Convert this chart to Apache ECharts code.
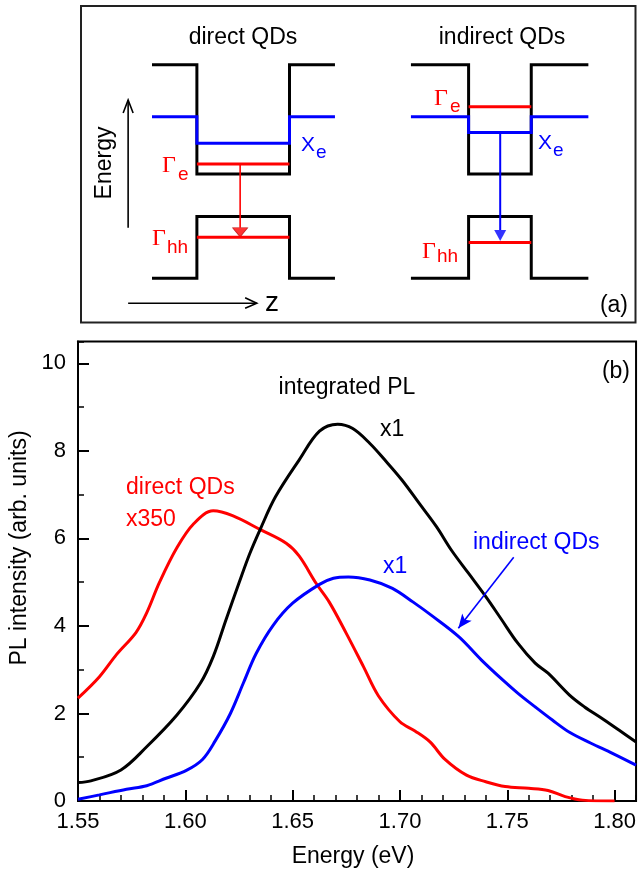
<!DOCTYPE html>
<html>
<head>
<meta charset="utf-8">
<script src="https://cdn.jsdelivr.net/npm/echarts@6/dist/echarts.min.js"></script>
<style>
  html, body { margin: 0; padding: 0; background: #fff; }
  #chart { width: 639px; height: 874px; }
</style>
</head>
<body>
<div id="chart"></div>
<script>
const FONT = "Liberation Sans, Arial, sans-serif";
const SERIF = "Liberation Serif, Times New Roman, serif";

// panel (b): integrated PL spectra
const energyBlack = [1.550, 1.556, 1.570, 1.582, 1.596, 1.607, 1.613, 1.619, 1.625, 1.630, 1.635, 1.642, 1.653, 1.6625, 1.671, 1.678, 1.686, 1.693, 1.701, 1.709, 1.717, 1.724, 1.732, 1.740, 1.747, 1.755, 1.763, 1.769, 1.779, 1.786, 1.794, 1.802, 1.810];
const plBlack = [0.42, 0.46, 0.71, 1.24, 1.96, 2.69, 3.30, 4.15, 4.98, 5.65, 6.22, 6.95, 7.79, 8.45, 8.61, 8.51, 8.17, 7.79, 7.33, 6.80, 6.27, 5.73, 5.20, 4.67, 4.17, 3.60, 3.15, 2.92, 2.42, 2.15, 1.89, 1.62, 1.35];

const energyRed = [1.550, 1.560, 1.568, 1.577, 1.582, 1.588, 1.596, 1.604, 1.613, 1.622, 1.635, 1.647, 1.653, 1.661, 1.667, 1.675, 1.683, 1.690, 1.700, 1.707, 1.714, 1.721, 1.731, 1.740, 1.749, 1.760, 1.769, 1.777, 1.785, 1.800];
const plRed = [2.35, 2.84, 3.35, 3.85, 4.30, 5.00, 5.78, 6.34, 6.63, 6.52, 6.20, 5.89, 5.60, 4.97, 4.55, 3.83, 3.07, 2.40, 1.81, 1.60, 1.35, 0.95, 0.59, 0.44, 0.33, 0.29, 0.24, 0.10, 0.02, 0.00];

const energyBlue = [1.550, 1.560, 1.5726, 1.582, 1.591, 1.6005, 1.608, 1.614, 1.621, 1.627, 1.633, 1.641, 1.650, 1.6625, 1.669, 1.676, 1.686, 1.6965, 1.706, 1.715, 1.7275, 1.738, 1.748, 1.755, 1.763, 1.771, 1.779, 1.789, 1.799, 1.810];
const plBlue = [0.04, 0.14, 0.27, 0.35, 0.52, 0.70, 0.95, 1.38, 2.00, 2.69, 3.37, 4.02, 4.52, 4.95, 5.09, 5.12, 5.05, 4.86, 4.55, 4.23, 3.75, 3.22, 2.76, 2.46, 2.15, 1.85, 1.57, 1.32, 1.09, 0.82];

const xTicks = [1.55, 1.81, 0.05, 0.01];   // min, max, major, minor
const yTicks = [0, 10.5, 2, 1];

// arrow pointing at the indirect QD curve, in data units
const pointerStart = [1.753, 5.57];
const pointerEnd = [1.7272, 3.95];

// panel (a): band scheme in arbitrary units (z across, energy up, 0..100)
const directEdges = [12.8, 20.9, 37.6, 45.8];
const indirectEdges = [59.5, 69.9, 81.2, 91.5];
const cbLevels = [81.4, 46.9];        // barrier, well bottom
const vbLevels = [14.0, 33.5];        // barrier, well top
const xLevels = [65.0, 56.6, 60.0];   // barrier, direct well, indirect well
const gammaE = [50.1, 68.2];          // direct, indirect
const gammaHH = [26.9, 25.3];         // direct, indirect
const transitionX = [28.7, 75.6];
const transitionHead = [28.5, 27.5];
const transitionTop = [29.9, 29.2];

function pairs(xs, ys) {
  return xs.map((x, i) => [x, ys[i]]);
}

function well(edges, outer, inner) {
  return [
    [edges[0], outer], [edges[1], outer], [edges[1], inner],
    [edges[2], inner], [edges[2], outer], [edges[3], outer],
  ];
}

function level(edges, y) {
  return [[edges[1], y], [edges[2], y]];
}

function schemeLine(data, color, width) {
  return {
    type: "line",
    xAxisIndex: 2,
    yAxisIndex: 2,
    data,
    showSymbol: false,
    symbol: "none",
    silent: true,
    lineStyle: { color, width, cap: "butt", join: "miter" },
  };
}

function curve(xs, ys, color, extra) {
  return Object.assign({
    type: "line",
    data: pairs(xs, ys),
    showSymbol: false,
    symbol: "none",
    smooth: 0.35,
    lineStyle: { color, width: 3 },
    z: 3,
  }, extra || {});
}

function text(x, y, str, opts) {
  const o = opts || {};
  const size = o.size || 23;
  return {
    type: "text",
    x,
    y,
    rotation: o.rotation || 0,
    silent: true,
    style: {
      text: str,
      fill: o.color || "#000",
      font: `${size}px ${o.family || FONT}`,
      fontSize: size,
      fontFamily: o.family || FONT,
      align: o.align || "left",
      textAlign: o.align || "left",
      verticalAlign: "middle",
      textVerticalAlign: "middle",
    },
  };
}

const chart = echarts.init(document.getElementById("chart"), null, { renderer: "canvas" });

const tickStyle = { color: "#000", width: 2 };

chart.setOption({
  animation: false,
  backgroundColor: "#fff",
  grid: [
    { left: 78, top: 341.5, width: 559.5, height: 459.5, show: true, borderColor: "#000", borderWidth: 2 },
    { left: 81, top: 6, width: 554.5, height: 316.5, show: true, borderColor: "#222", borderWidth: 2 },
  ],
  xAxis: [
    {
      type: "value", gridIndex: 0, position: "bottom",
      min: xTicks[0], max: xTicks[1], interval: xTicks[2],
      axisLine: { onZero: false, lineStyle: tickStyle },
      axisTick: { inside: true, length: 11, lineStyle: tickStyle },
      axisLabel: {
        color: "#000", fontSize: 22, fontFamily: FONT, margin: 10,
        showMaxLabel: false, formatter: (v) => v.toFixed(2),
      },
      splitLine: { show: false },
    },
    {
      type: "value", gridIndex: 0, position: "bottom",
      min: xTicks[0], max: xTicks[1], interval: xTicks[3],
      axisLine: { show: false, onZero: false },
      axisTick: { inside: true, length: 6, lineStyle: { color: "#000", width: 1.5 } },
      axisLabel: { show: false },
      splitLine: { show: false },
    },
    { type: "value", gridIndex: 1, min: 0, max: 100, show: false },
  ],
  yAxis: [
    {
      type: "value", gridIndex: 0, position: "left",
      min: yTicks[0], max: yTicks[1], interval: yTicks[2],
      axisLine: { show: true, onZero: false, lineStyle: tickStyle },
      axisTick: { show: true, inside: true, length: 11, lineStyle: tickStyle },
      axisLabel: { color: "#000", fontSize: 22, fontFamily: FONT, margin: 12, showMaxLabel: false },
      splitLine: { show: false },
    },
    {
      type: "value", gridIndex: 0, position: "left",
      min: yTicks[0], max: yTicks[1], interval: yTicks[3],
      axisLine: { show: false, onZero: false },
      axisTick: { show: true, inside: true, length: 6, lineStyle: { color: "#000", width: 1.5 } },
      axisLabel: { show: false },
      splitLine: { show: false },
    },
    { type: "value", gridIndex: 1, min: 0, max: 100, show: false },
  ],
  series: [
    curve(energyRed, plRed, "#ff0000"),
    curve(energyBlack, plBlack, "#000000"),
    curve(energyBlue, plBlue, "#0000ff", {
      markLine: {
        silent: true,
        symbol: ["none", "arrow"],
        symbolSize: [9, 14],
        label: { show: false },
        lineStyle: { color: "#0000ff", width: 1.6, type: "solid" },
        data: [[{ coord: pointerStart }, { coord: pointerEnd }]],
      },
    }),

    // direct QDs scheme
    schemeLine(well(directEdges, cbLevels[0], cbLevels[1]), "#000", 3),
    schemeLine(well(directEdges, vbLevels[0], vbLevels[1]), "#000", 3),
    schemeLine(well(directEdges, xLevels[0], xLevels[1]), "#0000ff", 3),
    schemeLine(level(directEdges, gammaE[0]), "#ff0000", 3),
    schemeLine(level(directEdges, gammaHH[0]), "#ff0000", 3),
    schemeLine([[transitionX[0], gammaE[0]], [transitionX[0], transitionTop[0]]], "#ff0000", 1.6),

    // indirect QDs scheme
    schemeLine(well(indirectEdges, cbLevels[0], cbLevels[1]), "#000", 3),
    schemeLine(well(indirectEdges, vbLevels[0], vbLevels[1]), "#000", 3),
    schemeLine(level(indirectEdges, gammaE[1]), "#ff0000", 3),
    schemeLine(level(indirectEdges, gammaHH[1]), "#ff0000", 3),
    schemeLine(well(indirectEdges, xLevels[0], xLevels[2]), "#0000ff", 3),
    schemeLine([[transitionX[1], xLevels[2]], [transitionX[1], transitionTop[1]]], "#0000ff", 2),

    // energy and z arrows
    schemeLine([[8.5, 29.9], [8.5, 70.3]], "#000", 1.6),
    schemeLine([[7.6, 66.2], [8.5, 70.3], [9.4, 66.2]], "#000", 1.6),
    schemeLine([[8.5, 6.1], [31.7, 6.1]], "#000", 1.6),
    schemeLine([[29.6, 7.8], [31.7, 6.1], [29.6, 4.5]], "#000", 1.6),

    // transition arrow heads
    {
      type: "scatter", xAxisIndex: 2, yAxisIndex: 2, silent: true,
      symbol: "triangle", symbolRotate: 180, symbolSize: [15, 9],
      itemStyle: { color: "#ff0000", borderColor: "#b00000", borderWidth: 0.8 },
      data: [[transitionX[0], transitionHead[0]]],
    },
    {
      type: "scatter", xAxisIndex: 2, yAxisIndex: 2, silent: true,
      symbol: "triangle", symbolRotate: 180, symbolSize: [12, 11],
      itemStyle: { color: "#0000ff" },
      data: [[transitionX[1], transitionHead[1]]],
    },
  ],
  graphic: [
    // panel (a)
    text(243, 38, "direct QDs", { align: "center" }),
    text(502, 38, "indirect QDs", { align: "center" }),
    text(105, 163, "Energy", { align: "center", rotation: Math.PI / 2 }),
    text(265, 303, "z", { size: 28 }),
    text(628, 306, "(a)", { align: "right" }),

    text(162, 166, "\u0393", { color: "#ff0000", family: SERIF, size: 24 }),
    text(178, 175, "e", { color: "#ff0000", size: 19 }),
    text(301, 145, "X", { color: "#0000ff", size: 21 }),
    text(316, 153, "e", { color: "#0000ff", size: 19 }),
    text(152, 239, "\u0393", { color: "#ff0000", family: SERIF, size: 24 }),
    text(167, 248, "hh", { color: "#ff0000", size: 19 }),

    text(434, 99, "\u0393", { color: "#ff0000", family: SERIF, size: 24 }),
    text(450, 107, "e", { color: "#ff0000", size: 19 }),
    text(538, 143, "X", { color: "#0000ff", size: 21 }),
    text(553, 151, "e", { color: "#0000ff", size: 19 }),
    text(422, 252, "\u0393", { color: "#ff0000", family: SERIF, size: 24 }),
    text(437, 257, "hh", { color: "#ff0000", size: 19 }),

    // panel (b)
    text(630, 372, "(b)", { align: "right" }),
    text(347, 388, "integrated PL", { align: "center" }),
    text(380, 430, "x1"),
    text(126, 488, "direct QDs", { color: "#ff0000" }),
    text(126, 520, "x350", { color: "#ff0000" }),
    text(473, 543, "indirect QDs", { color: "#0000ff" }),
    text(383, 567, "x1", { color: "#0000ff" }),
    text(20, 548, "PL intensity (arb. units)", { align: "center", rotation: Math.PI / 2 }),
    text(353, 857, "Energy (eV)", { align: "center" }),
  ],
});
</script>
</body>
</html>
